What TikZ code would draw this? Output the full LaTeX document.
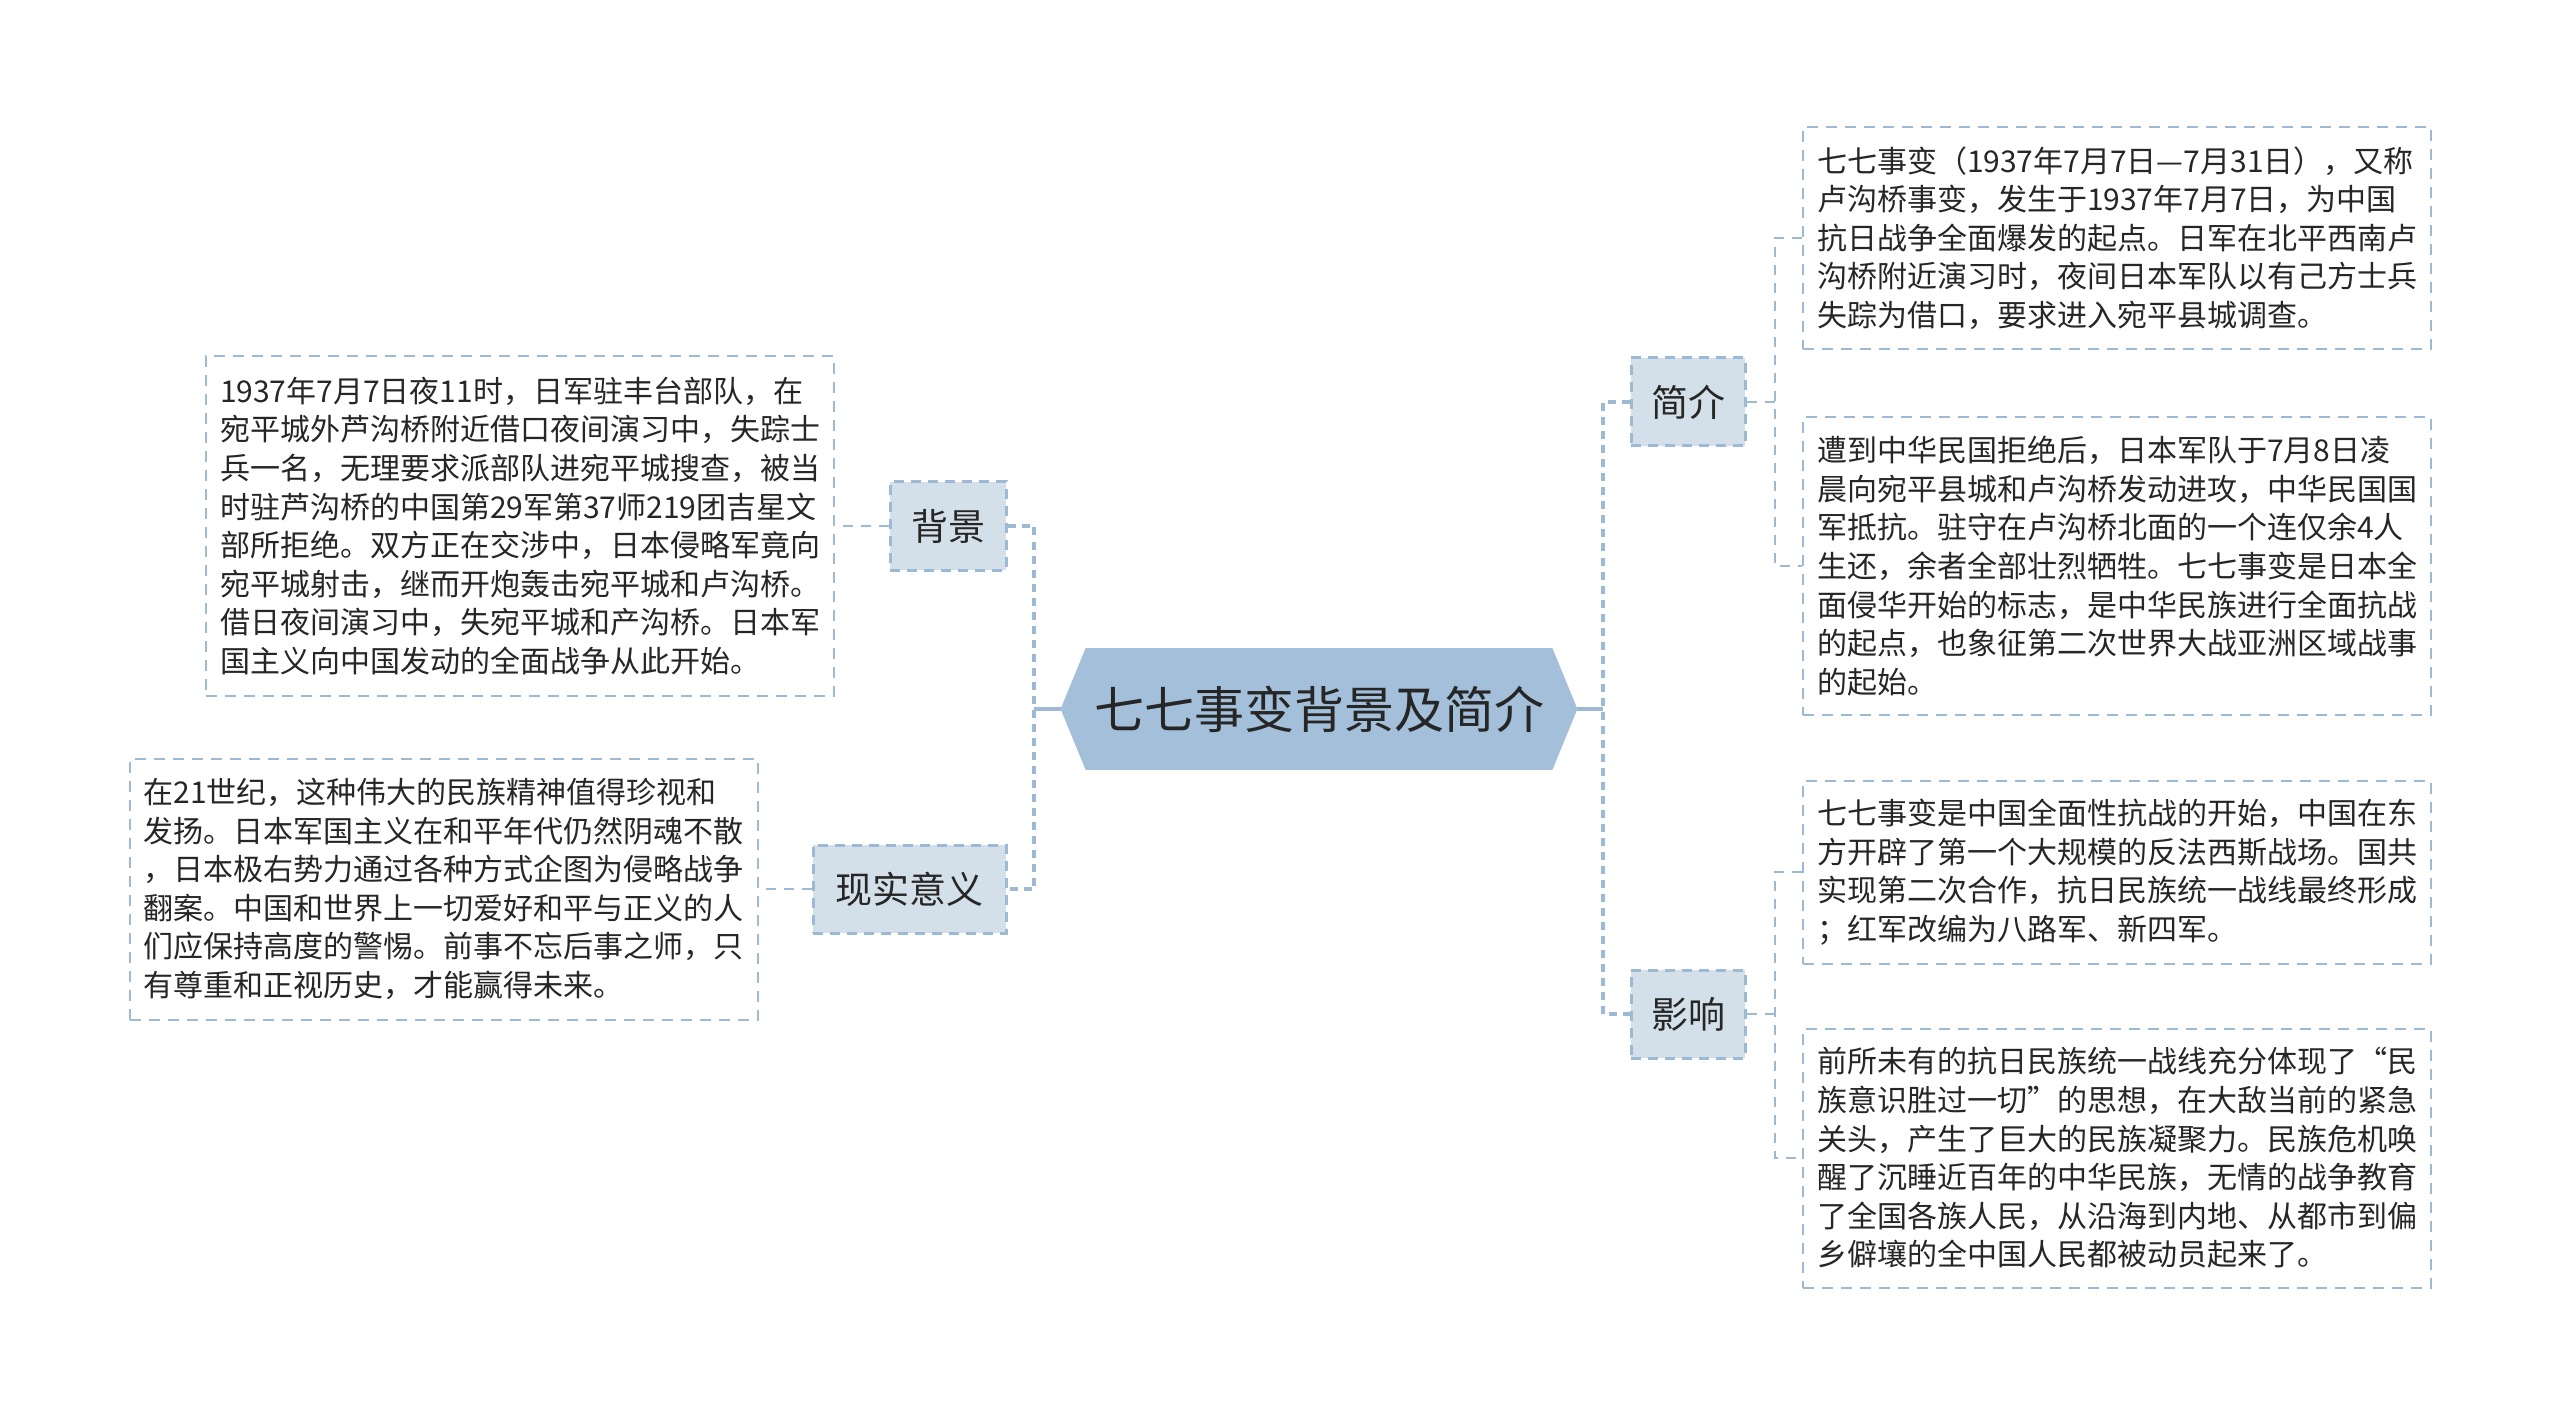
\documentclass[tikz,border=0pt]{standalone}
\usepackage{fontspec}
\newfontfamily\cjk{Noto Sans CJK SC}
\usetikzlibrary{backgrounds}
\definecolor{hexfill}{HTML}{A3BFDA}
\definecolor{branchfill}{HTML}{D4E0E9}
\definecolor{lineblue}{HTML}{9DB9D4}
\definecolor{txt}{HTML}{262626}
\tikzset{
 leafbox/.style={draw=lineblue, line width=1pt, dash pattern=on 5.5pt off 4pt, fill=white, text width=300pt, inner xsep=7pt, inner ysep=0pt, align=left, text=txt, font=\cjk\fontsize{15}{19.3}\selectfont},
 branchbox/.style={draw=lineblue, line width=1.5pt, dash pattern=on 5pt off 3.5pt, fill=branchfill, minimum height=44pt, inner sep=0pt, text=txt, font=\cjk\fontsize{18.5}{22}\selectfont},
 rootbox/.style={minimum width=258pt, minimum height=60.5pt, inner sep=0pt, text=txt, font=\cjk\fontsize{25}{30}\selectfont},
 mainlink/.style={draw=lineblue, line width=2pt},
 branchlink/.style={draw=lineblue, line width=2pt, dash pattern=on 4pt off 3pt},
 leaflink/.style={draw=lineblue, line width=1pt, dash pattern=on 5pt off 4pt},
}
\begin{document}
\begin{tikzpicture}[x=0.5pt,y=-0.5pt]
\useasboundingbox (0,0) rectangle (2560,1417);

% root
\node[rootbox] (root) at (1319,709) {七七事变背景及简介};
\begin{pgfonlayer}{background}
\fill[hexfill] (root.west) -- ([xshift=12.5pt]root.north west) -- ([xshift=-12.5pt]root.north east) -- (root.east) -- ([xshift=-12.5pt]root.south east) -- ([xshift=12.5pt]root.south west) -- cycle;
\end{pgfonlayer}

% branches
\node[branchbox, minimum width=57pt] (jj) at (1688,402) {简介};
\node[branchbox, minimum width=57pt] (yx) at (1688,1014) {影响};
\node[branchbox, minimum width=58pt] (bj) at (948,526) {背景};
\node[branchbox, minimum width=96.5pt] (xs) at (909.5,889) {现实意义};

% leaves right
\node[leafbox, minimum height=111pt] (r1) at (2117,238) {七七事变（1937年7月7日—7月31日），又称\\卢沟桥事变，发生于1937年7月7日，为中国\\抗日战争全面爆发的起点。日军在北平西南卢\\沟桥附近演习时，夜间日本军队以有己方士兵\\失踪为借口，要求进入宛平县城调查。};
\node[leafbox, minimum height=148.5pt] (r2) at (2117,566) {遭到中华民国拒绝后，日本军队于7月8日凌\\晨向宛平县城和卢沟桥发动进攻，中华民国国\\军抵抗。驻守在卢沟桥北面的一个连仅余4人\\生还，余者全部壮烈牺牲。七七事变是日本全\\面侵华开始的标志，是中华民族进行全面抗战\\的起点，也象征第二次世界大战亚洲区域战事\\的起始。};
\node[leafbox, minimum height=91.5pt] (r3) at (2117,872) {七七事变是中国全面性抗战的开始，中国在东\\方开辟了第一个大规模的反法西斯战场。国共\\实现第二次合作，抗日民族统一战线最终形成\\；红军改编为八路军、新四军。};
\node[leafbox, minimum height=129.5pt] (r4) at (2117,1158) {前所未有的抗日民族统一战线充分体现了“民\\族意识胜过一切”的思想，在大敌当前的紧急\\关头，产生了巨大的民族凝聚力。民族危机唤\\醒了沉睡近百年的中华民族，无情的战争教育\\了全国各族人民，从沿海到内地、从都市到偏\\乡僻壤的全中国人民都被动员起来了。};

% leaves left
\node[leafbox, minimum height=170pt] (l1) at (520,526) {1937年7月7日夜11时，日军驻丰台部队，在\\宛平城外芦沟桥附近借口夜间演习中，失踪士\\兵一名，无理要求派部队进宛平城搜查，被当\\时驻芦沟桥的中国第29军第37师219团吉星文\\部所拒绝。双方正在交涉中，日本侵略军竟向\\宛平城射击，继而开炮轰击宛平城和卢沟桥。\\借日夜间演习中，失宛平城和产沟桥。日本军\\国主义向中国发动的全面战争从此开始。};
\node[leafbox, minimum height=130.5pt] (l2) at (443.5,889) {在21世纪，这种伟大的民族精神值得珍视和\\发扬。日本军国主义在和平年代仍然阴魂不散\\，日本极右势力通过各种方式企图为侵略战争\\翻案。中国和世界上一切爱好和平与正义的人\\们应保持高度的警惕。前事不忘后事之师，只\\有尊重和正视历史，才能赢得未来。};

% junction coordinates
\coordinate (rv) at (1603,709);
\coordinate (lv) at (1034,709);
\coordinate (cj) at (1775,402);
\coordinate (cy) at (1775,1014);

% connectors
\draw[mainlink] (root.east) -- (rv);
\draw[mainlink] (root.west) -- (lv);
\draw[branchlink] (jj.west) -| (rv) |- (yx.west);
\draw[branchlink] (bj.east) -| (lv) |- (xs.east);

\draw[leaflink] (jj.east) -- (cj);
\draw[leaflink] (r1.west) -| (cj) |- (r2.west);
\draw[leaflink] (yx.east) -- (cy);
\draw[leaflink] (r3.west) -| (cy) |- (r4.west);
\draw[leaflink] (bj.west) -- (l1.east);
\draw[leaflink] (xs.west) -- (l2.east);
\end{tikzpicture}
\end{document}
